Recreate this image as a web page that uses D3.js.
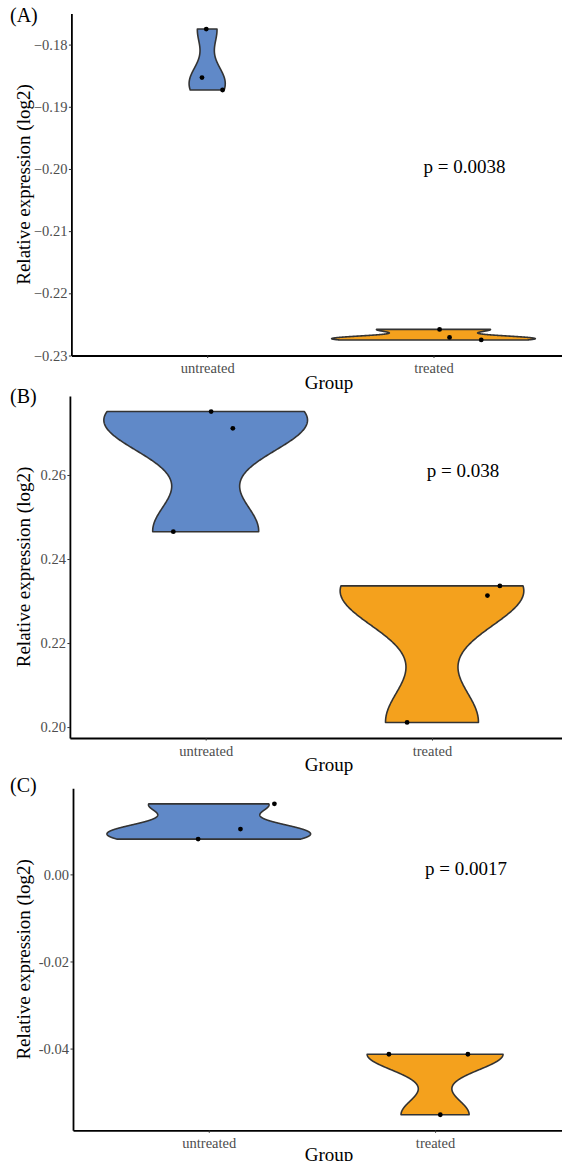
<!DOCTYPE html>
<html>
<head>
<meta charset="utf-8">
<script src="https://cdn.jsdelivr.net/npm/d3@7"></script>
<style>
  body { margin: 0; background: #fff; }
  svg { display: block; }
</style>
</head>
<body>
<svg id="chart" width="562" height="1161"></svg>
<script>
// groups on the x axis
const groups = ["untreated", "treated"];

// values (three replicates per group)
const untreatedA = [-0.1775, -0.1853, -0.1873];
const treatedA   = [-0.2258, -0.2271, -0.2275];
const untreatedB = [0.2751, 0.2711, 0.2465];
const treatedB   = [0.2336, 0.2313, 0.2011];
const untreatedC = [0.0162, 0.0104, 0.0081];
const treatedC   = [-0.0413, -0.0413, -0.0552];

// horizontal jitter of the points, in category units
const jitUntreatedA = [-0.004, -0.023, 0.068];
const jitTreatedA   = [0.027, 0.071, 0.211];
const jitUntreatedB = [0.024, 0.12, -0.143];
const jitTreatedB   = [0.30, 0.245, -0.11];
const jitUntreatedC = [0.29, 0.14, -0.047];
const jitTreatedC   = [-0.204, 0.145, 0.023];

// y ticks and their labels
const ticksA = [-0.18, -0.19, -0.20, -0.21, -0.22, -0.23];
const tickLabelsA = ["\u22120.18", "\u22120.19", "\u22120.20", "\u22120.21", "\u22120.22", "\u22120.23"];
const ticksB = [0.20, 0.22, 0.24, 0.26];
const tickLabelsB = ["0.20", "0.22", "0.24", "0.26"];
const ticksC = [0.00, -0.02, -0.04];
const tickLabelsC = ["0.00", "-0.02", "-0.04"];

// p value annotations (x in category units, y in data units)
const tags = ["(A)", "(B)", "(C)"];
const pLabels = ["p = 0.0038", "p = 0.038", "p = 0.0017"];
const pX = [2.137, 2.137, 2.137];
const pY = [-0.1996, 0.2612, 0.00145];

const colors = ["#6089c8", "#f4a11d"];
const font = "'Liberation Serif', 'Times New Roman', serif";

const svg = d3.select("#chart");

// R style density (gaussian kernel, bw.nrd0, trimmed to data range)
function quantile7(s, p) {
	const h = (s.length - 1) * p, lo = Math.floor(h);
	return s[lo] + (h - lo) * ((s[lo + 1] ?? s[lo]) - s[lo]);
}
function violinDensity(values) {
	const s = values.slice().sort((a, b) => a - b), n = s.length;
	const sd = d3.deviation(s);
	const iqr = quantile7(s, 0.75) - quantile7(s, 0.25);
	const bw = 0.9 * Math.min(sd, iqr / 1.34) * Math.pow(n, -0.2);
	const grid = d3.range(512).map(i => s[0] + (s[n - 1] - s[0]) * i / 511);
	return grid.map(v => ({
		v: v,
		d: d3.mean(s, x => Math.exp(-0.5 * ((v - x) / bw) ** 2)) / (bw * Math.sqrt(2 * Math.PI))
	}));
}

function drawPanel(cfg) {
	const g = svg.append("g");
	const plotH = 342;
	const step = 226.3;

	const all = cfg.series.flat();
	const [lo, hi] = d3.extent(all);
	const pad = (hi - lo) * 0.05;
	const y = d3.scaleLinear()
		.domain([lo - pad, hi + pad])
		.range([cfg.top + plotH, cfg.top]);
	const x = d3.scalePoint()
		.domain(groups)
		.range([cfg.left, cfg.left + 2.2 * step])
		.padding(0.6);

	// violins, area scaled so the densest one spans 0.9 of a category
	const dens = cfg.series.map(violinDensity);
	const maxD = d3.max(dens, ds => d3.max(ds, e => e.d));
	dens.forEach((ds, i) => {
		const cx = x(groups[i]);
		const area = d3.area()
			.y(e => y(e.v))
			.x0(e => cx - e.d / maxD * 0.45 * step)
			.x1(e => cx + e.d / maxD * 0.45 * step);
		g.append("path")
			.datum(ds)
			.attr("d", area)
			.attr("fill", colors[i])
			.attr("stroke", "#333333")
			.attr("stroke-width", 1.6)
			.attr("stroke-linejoin", "round");
	});

	// jittered points
	cfg.series.forEach((vals, i) => {
		g.selectAll(null)
			.data(vals)
			.enter().append("circle")
			.attr("cx", (v, j) => x(groups[i]) + cfg.jitter[i][j] * step)
			.attr("cy", v => y(v))
			.attr("r", 2.4)
			.attr("fill", "#000");
	});

	// axes
	const yAxis = g.append("g")
		.attr("transform", "translate(" + cfg.left + ",0)")
		.call(d3.axisLeft(y).tickValues(cfg.ticks)
			.tickFormat((d, i) => cfg.tickLabels[i])
			.tickSize(2.5).tickSizeOuter(0).tickPadding(1.5));
	const xAxis = g.append("g")
		.attr("transform", "translate(0," + (cfg.top + plotH) + ")")
		.call(d3.axisBottom(x).tickSize(2.5).tickSizeOuter(0).tickPadding(5));
	[yAxis, xAxis].forEach(a => {
		a.select(".domain").attr("stroke", "#000").attr("stroke-width", 1.8);
		a.selectAll(".tick line").attr("stroke", "#333").attr("stroke-width", 1);
		a.selectAll(".tick text")
			.attr("fill", "#4d4d4d")
			.style("font-family", font)
			.style("font-size", "14.5px");
	});

	// titles
	g.append("text")
		.attr("x", 329)
		.attr("y", cfg.top + plotH + cfg.groupDy)
		.attr("text-anchor", "middle")
		.style("font-family", font)
		.style("font-size", "19px")
		.text("Group");
	g.append("text")
		.attr("transform", "translate(30," + (cfg.top + plotH / 2) + ") rotate(-90)")
		.attr("text-anchor", "middle")
		.style("font-family", font)
		.style("font-size", "19px")
		.text("Relative expression (log2)");
	g.append("text")
		.attr("x", 10)
		.attr("y", cfg.tagY)
		.style("font-family", font)
		.style("font-size", "20px")
		.text(cfg.tag);

	// p value
	g.append("text")
		.attr("x", x(groups[0]) + (cfg.pX - 1) * step)
		.attr("y", y(cfg.pY))
		.attr("dy", "0.35em")
		.attr("text-anchor", "middle")
		.style("font-family", font)
		.style("font-size", "19px")
		.text(cfg.pLabel);
}

drawPanel({ top: 13.5, left: 71.4, series: [untreatedA, treatedA], jitter: [jitUntreatedA, jitTreatedA],
	ticks: ticksA, tickLabels: tickLabelsA, tag: tags[0], tagY: 22, groupDy: 33,
	pLabel: pLabels[0], pX: pX[0], pY: pY[0] });
drawPanel({ top: 396, left: 69.9, series: [untreatedB, treatedB], jitter: [jitUntreatedB, jitTreatedB],
	ticks: ticksB, tickLabels: tickLabelsB, tag: tags[1], tagY: 403, groupDy: 33,
	pLabel: pLabels[1], pX: pX[1], pY: pY[1] });
drawPanel({ top: 788.3, left: 73, series: [untreatedC, treatedC], jitter: [jitUntreatedC, jitTreatedC],
	ticks: ticksC, tickLabels: tickLabelsC, tag: tags[2], tagY: 792, groupDy: 31,
	pLabel: pLabels[2], pX: pX[2], pY: pY[2] });
</script>
</body>
</html>
